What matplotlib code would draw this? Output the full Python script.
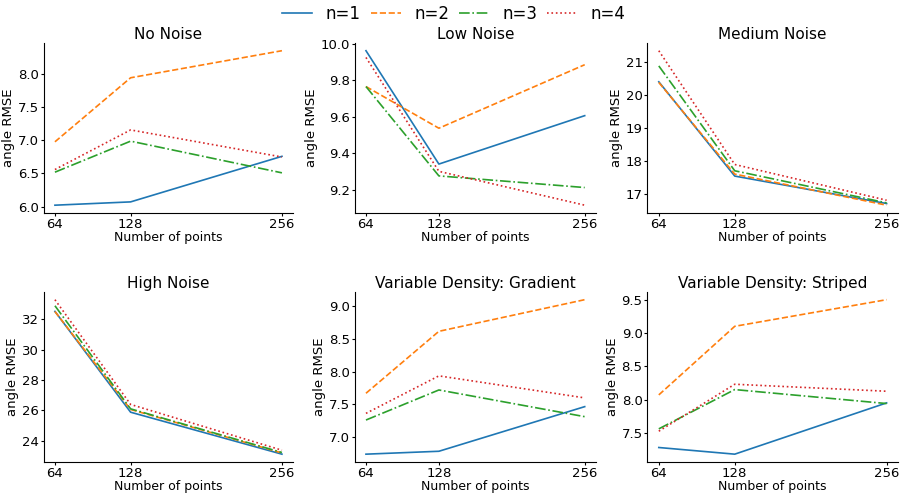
import matplotlib.pyplot as plt

# Data
n_points = [64, 128, 256]
series_labels = ["n=1", "n=2", "n=3", "n=4"]
titles = ["No Noise", "Low Noise", "Medium Noise",
          "High Noise", "Variable Density: Gradient", "Variable Density: Striped"]

no_noise = [[6.02, 6.07, 6.76], [6.98, 7.95, 8.36], [6.52, 6.99, 6.51], [6.56, 7.16, 6.75]]
low_noise = [[9.963, 9.34, 9.606], [9.766, 9.537, 9.886], [9.766, 9.275, 9.211], [9.926, 9.30, 9.114]]
medium_noise = [[20.40, 17.55, 16.72], [20.38, 17.61, 16.67], [20.88, 17.71, 16.74], [21.34, 17.90, 16.82]]
high_noise = [[32.51, 25.88, 23.12], [32.50, 26.06, 23.20], [32.88, 26.10, 23.23], [33.28, 26.39, 23.38]]
gradient = [[6.746, 6.79, 7.467], [7.67, 8.61, 9.09], [7.264, 7.72, 7.315], [7.365, 7.934, 7.60]]
striped = [[7.28, 7.18, 7.95], [8.07, 9.10, 9.50], [7.56, 8.15, 7.94], [7.525, 8.23, 8.125]]

all_data = [no_noise, low_noise, medium_noise, high_noise, gradient, striped]

colors = ["#1f77b4", "#ff7f0e", "#2ca02c", "#d62728"]
styles = ["-", "--", "-.", ":"]

fig, axes = plt.subplots(2, 3, figsize=(9.08, 4.94), dpi=100)

# axes positions in figure fraction
lefts = [0.048, 0.391, 0.713]
rights = [0.323, 0.656, 0.989]
rows = [(0.569, 0.913), (0.065, 0.409)]

for i, ax in enumerate(axes.flat):
    r, c = divmod(i, 3)
    b, t = rows[r]
    ax.set_position([lefts[c], b, rights[c] - lefts[c], t - b])
    for k in range(4):
        ax.plot(n_points, all_data[i][k], color=colors[k], linestyle=styles[k],
                linewidth=1.2, label=series_labels[k])
    ax.set_title(titles[i], fontsize=11, pad=3)
    ax.set_xticks(n_points)
    ax.set_xlabel("Number of points", fontsize=9, labelpad=0)
    ax.set_ylabel("angle RMSE", fontsize=9.5, labelpad=2)
    ax.tick_params(labelsize=9.5, length=2, pad=1.5)
    ax.spines["top"].set_visible(False)
    ax.spines["right"].set_visible(False)

handles, labels = axes[0, 0].get_legend_handles_labels()
fig.legend(handles, labels, loc="upper center", ncol=4, frameon=False,
           fontsize=12, bbox_to_anchor=(0.5, 1.02), handlelength=1.8, columnspacing=0.6)

plt.savefig("out.png", dpi=100)
